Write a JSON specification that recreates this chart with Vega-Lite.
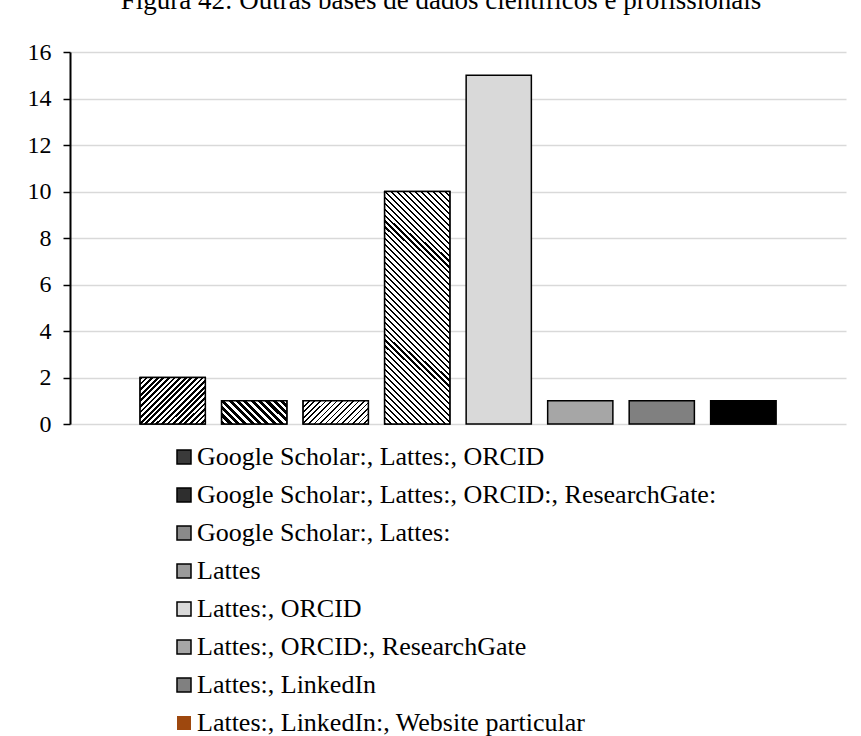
{
  "$schema": "https://vega.github.io/schema/vega-lite/v6.json",
  "autosize": "none",
  "width": 776,
  "height": 372,
  "padding": {"left": 70, "top": 52, "right": 15, "bottom": 312},
  "background": "white",
  "config": {
    "view": {"stroke": null},
    "font": "Liberation Serif"
  },
  "title": {
    "text": "Figura 42: Outras bases de dados científicos e profissionais",
    "font": "Liberation Serif",
    "fontSize": 27,
    "fontWeight": "normal",
    "color": "black",
    "anchor": "middle",
    "dx": -17,
    "dy": -4,
    "baseline": "alphabetic",
    "offset": 0
  },
  "data": {
    "values": [
      {"base": "Google Scholar:, Lattes:, ORCID", "n": 2},
      {"base": "Google Scholar:, Lattes:, ORCID:, ResearchGate:", "n": 1},
      {"base": "Google Scholar:, Lattes:", "n": 1},
      {"base": "Lattes", "n": 10},
      {"base": "Lattes:, ORCID", "n": 15},
      {"base": "Lattes:, ORCID:, ResearchGate", "n": 1},
      {"base": "Lattes:, LinkedIn", "n": 1},
      {"base": "Lattes:, LinkedIn:, Website particular", "n": 1}
    ]
  },
  "encoding": {
    "x": {
      "field": "base",
      "type": "nominal",
      "sort": null,
      "scale": {"type": "band", "paddingInner": 0.2, "paddingOuter": 0.86},
      "axis": null
    },
    "y": {
      "field": "n",
      "type": "quantitative",
      "scale": {"domain": [0, 16], "nice": false},
      "axis": {
        "title": null,
        "values": [0, 2, 4, 6, 8, 10, 12, 14, 16],
        "labelFont": "Liberation Serif",
        "labelFontSize": 24,
        "labelColor": "black",
        "labelPadding": 12,
        "domainColor": "black",
        "domainWidth": 2,
        "tickColor": "black",
        "tickSize": 7,
        "tickWidth": 1.5,
        "gridColor": "#d9d9d9",
        "gridWidth": 1.5
      }
    }
  },
  "layer": [
    {
      "mark": {"type": "bar", "stroke": "black", "strokeWidth": 1.5},
      "encoding": {
        "color": {
          "field": "base",
          "type": "nominal",
          "sort": null,
          "scale": {
            "range": ["#3a3a3a", "#2e2e2e", "#8a8a8a", "#9a9a9a", "#d9d9d9", "#a6a6a6", "#808080", "#9e480e"]
          },
          "legend": {
            "title": null,
            "orient": "none",
            "legendX": 101,
            "legendY": 392,
            "direction": "vertical",
            "padding": 0,
            "symbolType": "square",
            "symbolSize": 196,
            "symbolStrokeColor": "black",
            "symbolStrokeWidth": 1.5,
            "symbolOpacity": 1,
            "labelFont": "Liberation Serif",
            "labelFontSize": 26,
            "labelColor": "black",
            "labelOffset": 0,
            "labelLimit": 0,
            "rowPadding": 12,
            "encode": {
              "symbols": {
                "update": {
                  "stroke": {"signal": "datum.label === 'Lattes:, LinkedIn:, Website particular' ? 'transparent' : 'black'"}
                }
              }
            }
          }
        }
      }
    },
    {
      "transform": [{"filter": "datum.base === 'Google Scholar:, Lattes:, ORCID'"}],
      "mark": {
        "type": "bar",
        "stroke": "black",
        "strokeWidth": 1.5,
        "fill": {
          "gradient": "linear",
          "x1": 0, "y1": 0, "x2": 1.135, "y2": 0.812,
          "stops": [
            {"offset": 0, "color": "#000"}, {"offset": 0.025, "color": "#000"}, {"offset": 0.025, "color": "#fff"}, {"offset": 0.05, "color": "#fff"},
            {"offset": 0.05, "color": "#000"}, {"offset": 0.075, "color": "#000"}, {"offset": 0.075, "color": "#fff"}, {"offset": 0.1, "color": "#fff"},
            {"offset": 0.1, "color": "#000"}, {"offset": 0.125, "color": "#000"}, {"offset": 0.125, "color": "#fff"}, {"offset": 0.15, "color": "#fff"},
            {"offset": 0.15, "color": "#000"}, {"offset": 0.175, "color": "#000"}, {"offset": 0.175, "color": "#fff"}, {"offset": 0.2, "color": "#fff"},
            {"offset": 0.2, "color": "#000"}, {"offset": 0.225, "color": "#000"}, {"offset": 0.225, "color": "#fff"}, {"offset": 0.25, "color": "#fff"},
            {"offset": 0.25, "color": "#000"}, {"offset": 0.275, "color": "#000"}, {"offset": 0.275, "color": "#fff"}, {"offset": 0.3, "color": "#fff"},
            {"offset": 0.3, "color": "#000"}, {"offset": 0.325, "color": "#000"}, {"offset": 0.325, "color": "#fff"}, {"offset": 0.35, "color": "#fff"},
            {"offset": 0.35, "color": "#000"}, {"offset": 0.375, "color": "#000"}, {"offset": 0.375, "color": "#fff"}, {"offset": 0.4, "color": "#fff"},
            {"offset": 0.4, "color": "#000"}, {"offset": 0.425, "color": "#000"}, {"offset": 0.425, "color": "#fff"}, {"offset": 0.45, "color": "#fff"},
            {"offset": 0.45, "color": "#000"}, {"offset": 0.475, "color": "#000"}, {"offset": 0.475, "color": "#fff"}, {"offset": 0.5, "color": "#fff"},
            {"offset": 0.5, "color": "#000"}, {"offset": 0.525, "color": "#000"}, {"offset": 0.525, "color": "#fff"}, {"offset": 0.55, "color": "#fff"},
            {"offset": 0.55, "color": "#000"}, {"offset": 0.575, "color": "#000"}, {"offset": 0.575, "color": "#fff"}, {"offset": 0.6, "color": "#fff"},
            {"offset": 0.6, "color": "#000"}, {"offset": 0.625, "color": "#000"}, {"offset": 0.625, "color": "#fff"}, {"offset": 0.65, "color": "#fff"},
            {"offset": 0.65, "color": "#000"}, {"offset": 0.675, "color": "#000"}, {"offset": 0.675, "color": "#fff"}, {"offset": 0.7, "color": "#fff"},
            {"offset": 0.7, "color": "#000"}, {"offset": 0.725, "color": "#000"}, {"offset": 0.725, "color": "#fff"}, {"offset": 0.75, "color": "#fff"},
            {"offset": 0.75, "color": "#000"}, {"offset": 0.775, "color": "#000"}, {"offset": 0.775, "color": "#fff"}, {"offset": 0.8, "color": "#fff"},
            {"offset": 0.8, "color": "#000"}, {"offset": 0.825, "color": "#000"}, {"offset": 0.825, "color": "#fff"}, {"offset": 0.85, "color": "#fff"},
            {"offset": 0.85, "color": "#000"}, {"offset": 0.875, "color": "#000"}, {"offset": 0.875, "color": "#fff"}, {"offset": 0.9, "color": "#fff"},
            {"offset": 0.9, "color": "#000"}, {"offset": 0.925, "color": "#000"}, {"offset": 0.925, "color": "#fff"}, {"offset": 0.95, "color": "#fff"},
            {"offset": 0.95, "color": "#000"}, {"offset": 0.975, "color": "#000"}, {"offset": 0.975, "color": "#fff"}, {"offset": 1, "color": "#fff"}
          ]
        }
      }
    },
    {
      "transform": [{"filter": "datum.base === 'Google Scholar:, Lattes:, ORCID:, ResearchGate:'"}],
      "mark": {
        "type": "bar",
        "stroke": "black",
        "strokeWidth": 1.5,
        "fill": {
          "gradient": "linear",
          "x1": 0, "y1": 1, "x2": 1.204, "y2": 0.5694,
          "stops": [
            {"offset": 0, "color": "#000"}, {"offset": 0.0458, "color": "#000"}, {"offset": 0.0458, "color": "#fff"}, {"offset": 0.0833, "color": "#fff"},
            {"offset": 0.0833, "color": "#000"}, {"offset": 0.1292, "color": "#000"}, {"offset": 0.1292, "color": "#fff"}, {"offset": 0.1667, "color": "#fff"},
            {"offset": 0.1667, "color": "#000"}, {"offset": 0.2125, "color": "#000"}, {"offset": 0.2125, "color": "#fff"}, {"offset": 0.25, "color": "#fff"},
            {"offset": 0.25, "color": "#000"}, {"offset": 0.2958, "color": "#000"}, {"offset": 0.2958, "color": "#fff"}, {"offset": 0.3333, "color": "#fff"},
            {"offset": 0.3333, "color": "#000"}, {"offset": 0.3792, "color": "#000"}, {"offset": 0.3792, "color": "#fff"}, {"offset": 0.4167, "color": "#fff"},
            {"offset": 0.4167, "color": "#000"}, {"offset": 0.4625, "color": "#000"}, {"offset": 0.4625, "color": "#fff"}, {"offset": 0.5, "color": "#fff"},
            {"offset": 0.5, "color": "#000"}, {"offset": 0.5458, "color": "#000"}, {"offset": 0.5458, "color": "#fff"}, {"offset": 0.5833, "color": "#fff"},
            {"offset": 0.5833, "color": "#000"}, {"offset": 0.6292, "color": "#000"}, {"offset": 0.6292, "color": "#fff"}, {"offset": 0.6667, "color": "#fff"},
            {"offset": 0.6667, "color": "#000"}, {"offset": 0.7125, "color": "#000"}, {"offset": 0.7125, "color": "#fff"}, {"offset": 0.75, "color": "#fff"},
            {"offset": 0.75, "color": "#000"}, {"offset": 0.7958, "color": "#000"}, {"offset": 0.7958, "color": "#fff"}, {"offset": 0.8333, "color": "#fff"},
            {"offset": 0.8333, "color": "#000"}, {"offset": 0.8792, "color": "#000"}, {"offset": 0.8792, "color": "#fff"}, {"offset": 0.9167, "color": "#fff"},
            {"offset": 0.9167, "color": "#000"}, {"offset": 0.9625, "color": "#000"}, {"offset": 0.9625, "color": "#fff"}, {"offset": 1, "color": "#fff"}
          ]
        }
      }
    },
    {
      "transform": [{"filter": "datum.base === 'Google Scholar:, Lattes:'"}],
      "mark": {
        "type": "bar",
        "stroke": "black",
        "strokeWidth": 1.5,
        "fill": {
          "gradient": "linear",
          "x1": 0, "y1": 0, "x2": 1.204, "y2": 0.4306,
          "stops": [
            {"offset": 0, "color": "#000"}, {"offset": 0.01875, "color": "#000"}, {"offset": 0.01875, "color": "#fff"}, {"offset": 0.0625, "color": "#fff"},
            {"offset": 0.0625, "color": "#000"}, {"offset": 0.08125, "color": "#000"}, {"offset": 0.08125, "color": "#fff"}, {"offset": 0.125, "color": "#fff"},
            {"offset": 0.125, "color": "#000"}, {"offset": 0.14375, "color": "#000"}, {"offset": 0.14375, "color": "#fff"}, {"offset": 0.1875, "color": "#fff"},
            {"offset": 0.1875, "color": "#000"}, {"offset": 0.20625, "color": "#000"}, {"offset": 0.20625, "color": "#fff"}, {"offset": 0.25, "color": "#fff"},
            {"offset": 0.25, "color": "#000"}, {"offset": 0.26875, "color": "#000"}, {"offset": 0.26875, "color": "#fff"}, {"offset": 0.3125, "color": "#fff"},
            {"offset": 0.3125, "color": "#000"}, {"offset": 0.33125, "color": "#000"}, {"offset": 0.33125, "color": "#fff"}, {"offset": 0.375, "color": "#fff"},
            {"offset": 0.375, "color": "#000"}, {"offset": 0.39375, "color": "#000"}, {"offset": 0.39375, "color": "#fff"}, {"offset": 0.4375, "color": "#fff"},
            {"offset": 0.4375, "color": "#000"}, {"offset": 0.45625, "color": "#000"}, {"offset": 0.45625, "color": "#fff"}, {"offset": 0.5, "color": "#fff"},
            {"offset": 0.5, "color": "#000"}, {"offset": 0.51875, "color": "#000"}, {"offset": 0.51875, "color": "#fff"}, {"offset": 0.5625, "color": "#fff"},
            {"offset": 0.5625, "color": "#000"}, {"offset": 0.58125, "color": "#000"}, {"offset": 0.58125, "color": "#fff"}, {"offset": 0.625, "color": "#fff"},
            {"offset": 0.625, "color": "#000"}, {"offset": 0.64375, "color": "#000"}, {"offset": 0.64375, "color": "#fff"}, {"offset": 0.6875, "color": "#fff"},
            {"offset": 0.6875, "color": "#000"}, {"offset": 0.70625, "color": "#000"}, {"offset": 0.70625, "color": "#fff"}, {"offset": 0.75, "color": "#fff"},
            {"offset": 0.75, "color": "#000"}, {"offset": 0.76875, "color": "#000"}, {"offset": 0.76875, "color": "#fff"}, {"offset": 0.8125, "color": "#fff"},
            {"offset": 0.8125, "color": "#000"}, {"offset": 0.83125, "color": "#000"}, {"offset": 0.83125, "color": "#fff"}, {"offset": 0.875, "color": "#fff"},
            {"offset": 0.875, "color": "#000"}, {"offset": 0.89375, "color": "#000"}, {"offset": 0.89375, "color": "#fff"}, {"offset": 0.9375, "color": "#fff"},
            {"offset": 0.9375, "color": "#000"}, {"offset": 0.95625, "color": "#000"}, {"offset": 0.95625, "color": "#fff"}, {"offset": 1, "color": "#fff"}
          ]
        }
      }
    },
    {
      "transform": [{"filter": "datum.base === 'Lattes'"}],
      "mark": {
        "type": "bar",
        "stroke": "black",
        "strokeWidth": 1.5,
        "fill": {
          "gradient": "linear",
          "x1": 0, "y1": 1, "x2": 0.3318, "y2": -0.1868,
          "stops": [
            {"offset": 0, "color": "#000"}, {"offset": 0.007, "color": "#000"}, {"offset": 0.007, "color": "#fff"}, {"offset": 0.02, "color": "#fff"},
            {"offset": 0.02, "color": "#000"}, {"offset": 0.027, "color": "#000"}, {"offset": 0.027, "color": "#fff"}, {"offset": 0.04, "color": "#fff"},
            {"offset": 0.04, "color": "#000"}, {"offset": 0.047, "color": "#000"}, {"offset": 0.047, "color": "#fff"}, {"offset": 0.06, "color": "#fff"},
            {"offset": 0.06, "color": "#000"}, {"offset": 0.067, "color": "#000"}, {"offset": 0.067, "color": "#fff"}, {"offset": 0.08, "color": "#fff"},
            {"offset": 0.08, "color": "#000"}, {"offset": 0.087, "color": "#000"}, {"offset": 0.087, "color": "#fff"}, {"offset": 0.1, "color": "#fff"},
            {"offset": 0.1, "color": "#000"}, {"offset": 0.107, "color": "#000"}, {"offset": 0.107, "color": "#fff"}, {"offset": 0.12, "color": "#fff"},
            {"offset": 0.12, "color": "#000"}, {"offset": 0.127, "color": "#000"}, {"offset": 0.127, "color": "#fff"}, {"offset": 0.14, "color": "#fff"},
            {"offset": 0.14, "color": "#000"}, {"offset": 0.147, "color": "#000"}, {"offset": 0.147, "color": "#fff"}, {"offset": 0.16, "color": "#fff"},
            {"offset": 0.16, "color": "#000"}, {"offset": 0.167, "color": "#000"}, {"offset": 0.167, "color": "#fff"}, {"offset": 0.18, "color": "#fff"},
            {"offset": 0.18, "color": "#000"}, {"offset": 0.187, "color": "#000"}, {"offset": 0.187, "color": "#fff"}, {"offset": 0.2, "color": "#fff"},
            {"offset": 0.2, "color": "#000"}, {"offset": 0.207, "color": "#000"}, {"offset": 0.207, "color": "#fff"}, {"offset": 0.22, "color": "#fff"},
            {"offset": 0.22, "color": "#000"}, {"offset": 0.227, "color": "#000"}, {"offset": 0.227, "color": "#fff"}, {"offset": 0.24, "color": "#fff"},
            {"offset": 0.24, "color": "#000"}, {"offset": 0.247, "color": "#000"}, {"offset": 0.247, "color": "#fff"}, {"offset": 0.26, "color": "#fff"},
            {"offset": 0.26, "color": "#000"}, {"offset": 0.267, "color": "#000"}, {"offset": 0.267, "color": "#fff"}, {"offset": 0.28, "color": "#fff"},
            {"offset": 0.28, "color": "#000"}, {"offset": 0.287, "color": "#000"}, {"offset": 0.287, "color": "#fff"}, {"offset": 0.3, "color": "#fff"},
            {"offset": 0.3, "color": "#000"}, {"offset": 0.307, "color": "#000"}, {"offset": 0.307, "color": "#fff"}, {"offset": 0.32, "color": "#fff"},
            {"offset": 0.32, "color": "#000"}, {"offset": 0.327, "color": "#000"}, {"offset": 0.327, "color": "#fff"}, {"offset": 0.34, "color": "#fff"},
            {"offset": 0.34, "color": "#000"}, {"offset": 0.347, "color": "#000"}, {"offset": 0.347, "color": "#fff"}, {"offset": 0.36, "color": "#fff"},
            {"offset": 0.36, "color": "#000"}, {"offset": 0.367, "color": "#000"}, {"offset": 0.367, "color": "#fff"}, {"offset": 0.38, "color": "#fff"},
            {"offset": 0.38, "color": "#000"}, {"offset": 0.387, "color": "#000"}, {"offset": 0.387, "color": "#fff"}, {"offset": 0.4, "color": "#fff"},
            {"offset": 0.4, "color": "#000"}, {"offset": 0.407, "color": "#000"}, {"offset": 0.407, "color": "#fff"}, {"offset": 0.42, "color": "#fff"},
            {"offset": 0.42, "color": "#000"}, {"offset": 0.427, "color": "#000"}, {"offset": 0.427, "color": "#fff"}, {"offset": 0.44, "color": "#fff"},
            {"offset": 0.44, "color": "#000"}, {"offset": 0.447, "color": "#000"}, {"offset": 0.447, "color": "#fff"}, {"offset": 0.46, "color": "#fff"},
            {"offset": 0.46, "color": "#000"}, {"offset": 0.467, "color": "#000"}, {"offset": 0.467, "color": "#fff"}, {"offset": 0.48, "color": "#fff"},
            {"offset": 0.48, "color": "#000"}, {"offset": 0.487, "color": "#000"}, {"offset": 0.487, "color": "#fff"}, {"offset": 0.5, "color": "#fff"},
            {"offset": 0.5, "color": "#000"}, {"offset": 0.507, "color": "#000"}, {"offset": 0.507, "color": "#fff"}, {"offset": 0.52, "color": "#fff"},
            {"offset": 0.52, "color": "#000"}, {"offset": 0.527, "color": "#000"}, {"offset": 0.527, "color": "#fff"}, {"offset": 0.54, "color": "#fff"},
            {"offset": 0.54, "color": "#000"}, {"offset": 0.547, "color": "#000"}, {"offset": 0.547, "color": "#fff"}, {"offset": 0.56, "color": "#fff"},
            {"offset": 0.56, "color": "#000"}, {"offset": 0.567, "color": "#000"}, {"offset": 0.567, "color": "#fff"}, {"offset": 0.58, "color": "#fff"},
            {"offset": 0.58, "color": "#000"}, {"offset": 0.587, "color": "#000"}, {"offset": 0.587, "color": "#fff"}, {"offset": 0.6, "color": "#fff"},
            {"offset": 0.6, "color": "#000"}, {"offset": 0.607, "color": "#000"}, {"offset": 0.607, "color": "#fff"}, {"offset": 0.62, "color": "#fff"},
            {"offset": 0.62, "color": "#000"}, {"offset": 0.627, "color": "#000"}, {"offset": 0.627, "color": "#fff"}, {"offset": 0.64, "color": "#fff"},
            {"offset": 0.64, "color": "#000"}, {"offset": 0.647, "color": "#000"}, {"offset": 0.647, "color": "#fff"}, {"offset": 0.66, "color": "#fff"},
            {"offset": 0.66, "color": "#000"}, {"offset": 0.667, "color": "#000"}, {"offset": 0.667, "color": "#fff"}, {"offset": 0.68, "color": "#fff"},
            {"offset": 0.68, "color": "#000"}, {"offset": 0.687, "color": "#000"}, {"offset": 0.687, "color": "#fff"}, {"offset": 0.7, "color": "#fff"},
            {"offset": 0.7, "color": "#000"}, {"offset": 0.707, "color": "#000"}, {"offset": 0.707, "color": "#fff"}, {"offset": 0.72, "color": "#fff"},
            {"offset": 0.72, "color": "#000"}, {"offset": 0.727, "color": "#000"}, {"offset": 0.727, "color": "#fff"}, {"offset": 0.74, "color": "#fff"},
            {"offset": 0.74, "color": "#000"}, {"offset": 0.747, "color": "#000"}, {"offset": 0.747, "color": "#fff"}, {"offset": 0.76, "color": "#fff"},
            {"offset": 0.76, "color": "#000"}, {"offset": 0.767, "color": "#000"}, {"offset": 0.767, "color": "#fff"}, {"offset": 0.78, "color": "#fff"},
            {"offset": 0.78, "color": "#000"}, {"offset": 0.787, "color": "#000"}, {"offset": 0.787, "color": "#fff"}, {"offset": 0.8, "color": "#fff"},
            {"offset": 0.8, "color": "#000"}, {"offset": 0.807, "color": "#000"}, {"offset": 0.807, "color": "#fff"}, {"offset": 0.82, "color": "#fff"},
            {"offset": 0.82, "color": "#000"}, {"offset": 0.827, "color": "#000"}, {"offset": 0.827, "color": "#fff"}, {"offset": 0.84, "color": "#fff"},
            {"offset": 0.84, "color": "#000"}, {"offset": 0.847, "color": "#000"}, {"offset": 0.847, "color": "#fff"}, {"offset": 0.86, "color": "#fff"},
            {"offset": 0.86, "color": "#000"}, {"offset": 0.867, "color": "#000"}, {"offset": 0.867, "color": "#fff"}, {"offset": 0.88, "color": "#fff"},
            {"offset": 0.88, "color": "#000"}, {"offset": 0.887, "color": "#000"}, {"offset": 0.887, "color": "#fff"}, {"offset": 0.9, "color": "#fff"},
            {"offset": 0.9, "color": "#000"}, {"offset": 0.907, "color": "#000"}, {"offset": 0.907, "color": "#fff"}, {"offset": 0.92, "color": "#fff"},
            {"offset": 0.92, "color": "#000"}, {"offset": 0.927, "color": "#000"}, {"offset": 0.927, "color": "#fff"}, {"offset": 0.94, "color": "#fff"},
            {"offset": 0.94, "color": "#000"}, {"offset": 0.947, "color": "#000"}, {"offset": 0.947, "color": "#fff"}, {"offset": 0.96, "color": "#fff"},
            {"offset": 0.96, "color": "#000"}, {"offset": 0.967, "color": "#000"}, {"offset": 0.967, "color": "#fff"}, {"offset": 0.98, "color": "#fff"},
            {"offset": 0.98, "color": "#000"}, {"offset": 0.987, "color": "#000"}, {"offset": 0.987, "color": "#fff"}, {"offset": 1, "color": "#fff"}
          ]
        }
      }
    },
    {
      "transform": [{"filter": "datum.base === 'Lattes:, LinkedIn:, Website particular'"}],
      "mark": {"type": "bar", "fill": "black", "stroke": "black", "strokeWidth": 1.5}
    }
  ]
}
